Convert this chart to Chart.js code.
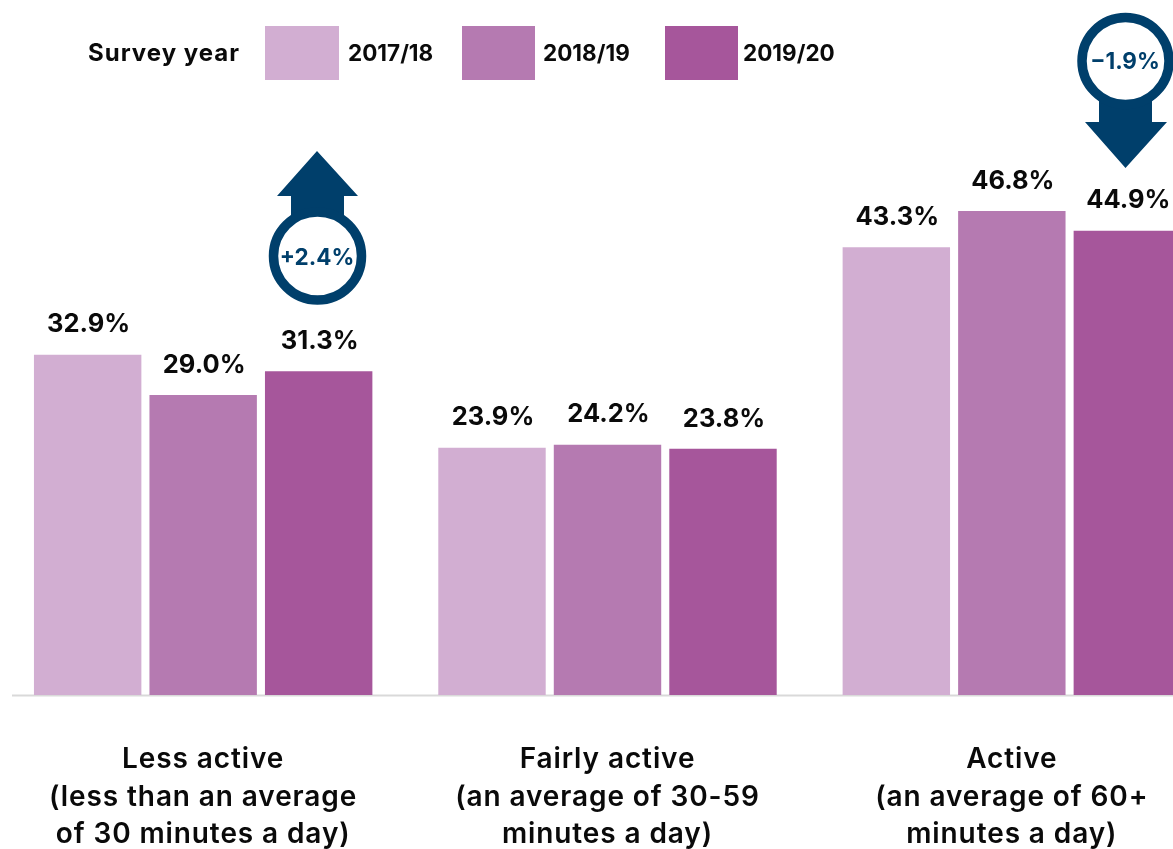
<!DOCTYPE html>
<html><head><meta charset="utf-8">
<style>html,body{margin:0;padding:0;background:#fff;overflow:hidden;width:1173px;height:849px}canvas{display:block}</style>
<script src="https://cdn.jsdelivr.net/npm/chart.js@4"></script></head>
<body><canvas id="c" width="1214" height="849" style="width:1214px;height:849px"></canvas>
<script>
const categories = [
  ["Less active","(less than an average","of 30 minutes a day)"],
  ["Fairly active","(an average of 30-59","minutes a day)"],
  ["Active","(an average of 60+","minutes a day)"]
];
const surveyYears = ["2017/18","2018/19","2019/20"];
const values201718 = [32.9,23.9,43.3];
const values201819 = [29.0,24.2,46.8];
const values201920 = [31.3,23.8,44.9];
const colours = ["#d2aed2","#b57ab1","#a6569b"];
const legendTitle = "Survey year";
const changeLabels = ["+2.4%","\u22121.9%"];
const FONT = "Inter, 'Open Sans', sans-serif";
const NAVY = "#003f6b";

const legendBoxes = [[265,339],[462,535],[665,738]];
const legendText = [348,543,743];

const deco = {
  id:"deco",
  beforeDraw(ch){ ch.ctx.letterSpacing="0.9px"; },
  beforeDatasetsDraw(ch){
    const c=ch.ctx, y=ch.scales.y.getPixelForValue(0);
    c.save(); c.fillStyle="#d9d9d9"; c.fillRect(12,y-0.5,1161,2); c.restore();
  },
  afterDatasetsDraw(ch){
    const c=ch.ctx;
    c.save();
    c.letterSpacing="0px";
    c.textAlign="center"; c.textBaseline="middle"; c.fillStyle="#0a0a0a";
    c.font="700 25.5px "+FONT;
    ch.data.datasets.forEach((d,i)=>{
      ch.getDatasetMeta(i).data.forEach((b,j)=>{
        c.fillText(d.data[j].toFixed(1)+"%", b.x+1, b.y-30);
      });
    });
    // legend
    c.textAlign="left";
    c.letterSpacing="1px";
    c.font="700 24px "+FONT;
    c.fillText(legendTitle,88,54);
    c.letterSpacing="0px";
    c.font="700 22.5px "+FONT;
    surveyYears.forEach((s,i)=>{
      c.fillStyle=colours[i];
      c.fillRect(legendBoxes[i][0],26,legendBoxes[i][1]-legendBoxes[i][0],54);
      c.fillStyle="#0a0a0a";
      c.fillText(s,legendText[i],54);
    });
    // up arrow
    c.fillStyle=NAVY; c.strokeStyle=NAVY;
    c.beginPath();
    [[317,151],[358,196],[344,196],[344,225],[291,225],[291,196],[277,196]].forEach((p,i)=>i?c.lineTo(p[0],p[1]):c.moveTo(p[0],p[1]));
    c.closePath(); c.fill();
    c.beginPath(); c.arc(317.5,256,44,0,Math.PI*2); c.fillStyle="#fff"; c.fill(); c.lineWidth=9.5; c.stroke();
    // down arrow
    c.fillStyle=NAVY;
    c.beginPath();
    [[1125.5,168],[1167,122],[1152,122],[1152,95],[1099,95],[1099,122],[1085,122]].forEach((p,i)=>i?c.lineTo(p[0],p[1]):c.moveTo(p[0],p[1]));
    c.closePath(); c.fill();
    c.beginPath(); c.arc(1125.5,61,43.5,0,Math.PI*2); c.fillStyle="#fff"; c.fill(); c.lineWidth=9.5; c.stroke();
    c.fillStyle=NAVY; c.textAlign="center"; c.font="700 22.5px "+FONT;
    c.fillText(changeLabels[0],317,258);
    c.fillText(changeLabels[1],1125,62);
    c.restore();
  }
};

new Chart(document.getElementById("c"),{
  type:"bar",
  data:{labels:categories,datasets:[
    {label:surveyYears[0],data:values201718,backgroundColor:colours[0]},
    {label:surveyYears[1],data:values201819,backgroundColor:colours[1]},
    {label:surveyYears[2],data:values201920,backgroundColor:colours[2]}
  ]},
  options:{
    responsive:false,animation:false,
    layout:{padding:{left:1,right:0,top:0,bottom:0}},
    categoryPercentage:0.857,barPercentage:0.93,
    plugins:{legend:{display:false},tooltip:{enabled:false},title:{display:false}},
    scales:{
      x:{grid:{display:false},border:{display:false},
        afterFit(s){s.height=154;},
        ticks:{autoSkip:false,maxRotation:0,minRotation:0,color:"#0a0a0a",padding:38,
          font:{family:FONT,size:28,weight:"600",lineHeight:"37.5px"}}},
      y:{display:false,min:0,max:67.2}
    }
  },
  plugins:[deco]
});
</script></body></html>
